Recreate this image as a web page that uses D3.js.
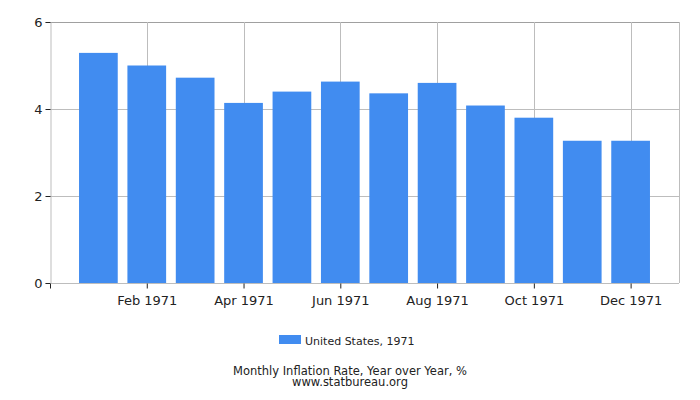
<html>
<head>
<script src="https://cdnjs.cloudflare.com/ajax/libs/d3/7.8.5/d3.min.js"></script>
<style>
body { margin: 0; background: white; }
text { font-family: "DejaVu Sans", sans-serif; }
</style>
</head>
<body></body>
<script>
var months = ["Jan 1971", "Feb 1971", "Mar 1971", "Apr 1971", "May 1971", "Jun 1971",
  "Jul 1971", "Aug 1971", "Sep 1971", "Oct 1971", "Nov 1971", "Dec 1971"];
var values = [5.29, 5.00, 4.72, 4.14, 4.40, 4.63, 4.36, 4.60, 4.08, 3.80, 3.27, 3.27];
var yTicks = [0, 2, 4, 6];
var seriesName = "United States, 1971";
var title = "Monthly Inflation Rate, Year over Year, %";
var source = "www.statbureau.org";

var screen = {width: 700, height: 400};
var plot = {left: 50, right: 679, top: 22, bottom: 283};
var barColor = "#418cf0";

var svg = d3.select("body").append("svg")
  .attr("width", screen.width)
  .attr("height", screen.height);

var x = d3.scaleLinear().domain([0, months.length + 1]).range([plot.left, plot.right]);
var y = d3.scaleLinear().domain([0, 6]).range([plot.bottom, plot.top]);
var barWidth = (x(1) - x(0)) * 0.8;

// grid
svg.append("g").selectAll("line.h").data(yTicks.slice(1)).enter().append("line")
  .attr("x1", plot.left).attr("x2", plot.right)
  .attr("y1", function (d) { return y(d) + 0.5; })
  .attr("y2", function (d) { return y(d) + 0.5; })
  .attr("stroke", function (d) { return d === 6 ? "#a0a0a0" : "#bdbdbd"; });
var labelled = months.map(function (m, i) { return i; }).filter(function (i) { return i % 2 === 1; });
svg.append("g").selectAll("line.v").data(labelled).enter().append("line")
  .attr("x1", function (i) { return Math.round(x(i + 1)) + 0.5; })
  .attr("x2", function (i) { return Math.round(x(i + 1)) + 0.5; })
  .attr("y1", plot.top).attr("y2", plot.bottom)
  .attr("stroke", "#bdbdbd");
svg.append("line")
  .attr("x1", plot.right + 0.5).attr("x2", plot.right + 0.5)
  .attr("y1", plot.top).attr("y2", plot.bottom)
  .attr("stroke", "#bdbdbd");

// bars
svg.append("g").selectAll("rect").data(values).enter().append("rect")
  .attr("x", function (d, i) { return x(i + 1) - barWidth / 2; })
  .attr("width", barWidth)
  .attr("y", function (d) { return y(d); })
  .attr("height", function (d) { return y(0) - y(d); })
  .attr("fill", barColor);

// y axis
var yAxis = svg.append("g")
  .attr("transform", "translate(" + (plot.left + 0.5) + ",0)")
  .call(d3.axisLeft(y).tickValues(yTicks).tickSize(5).tickPadding(3).tickFormat(d3.format("d")));
yAxis.select(".domain").attr("stroke", "#bdbdbd");
yAxis.selectAll(".tick line").attr("stroke", "#222");
yAxis.selectAll("text").attr("font-size", 13).attr("fill", "#222")
  .attr("font-family", "DejaVu Sans");

// x axis
var xAxis = svg.append("g")
  .attr("transform", "translate(0," + (plot.bottom + 0.5) + ")")
  .call(d3.axisBottom(x)
    .tickValues([0].concat(labelled.map(function (i) { return i + 1; })))
    .tickSize(5).tickPadding(7)
    .tickFormat(function (d) { return d === 0 ? "" : months[d - 1]; }));
xAxis.select(".domain").attr("stroke", "#bdbdbd").attr("d", "M" + plot.left + ",0H" + plot.right);
xAxis.selectAll(".tick line").attr("stroke", "#222");
xAxis.selectAll("text").attr("font-size", 13).attr("fill", "#222")
  .attr("font-family", "DejaVu Sans");

// legend
svg.append("rect")
  .attr("x", 279).attr("y", 335).attr("width", 22).attr("height", 9)
  .attr("fill", barColor);
svg.append("text")
  .attr("x", 305).attr("y", 345)
  .attr("font-size", 11).attr("fill", "#222")
  .text(seriesName);

// title
svg.append("text")
  .attr("x", 350).attr("y", 375).attr("text-anchor", "middle")
  .attr("font-size", 11.5).attr("fill", "#222")
  .text(title);
svg.append("text")
  .attr("x", 350).attr("y", 386).attr("text-anchor", "middle")
  .attr("font-size", 11.5).attr("fill", "#222")
  .text(source);
</script>
</html>
